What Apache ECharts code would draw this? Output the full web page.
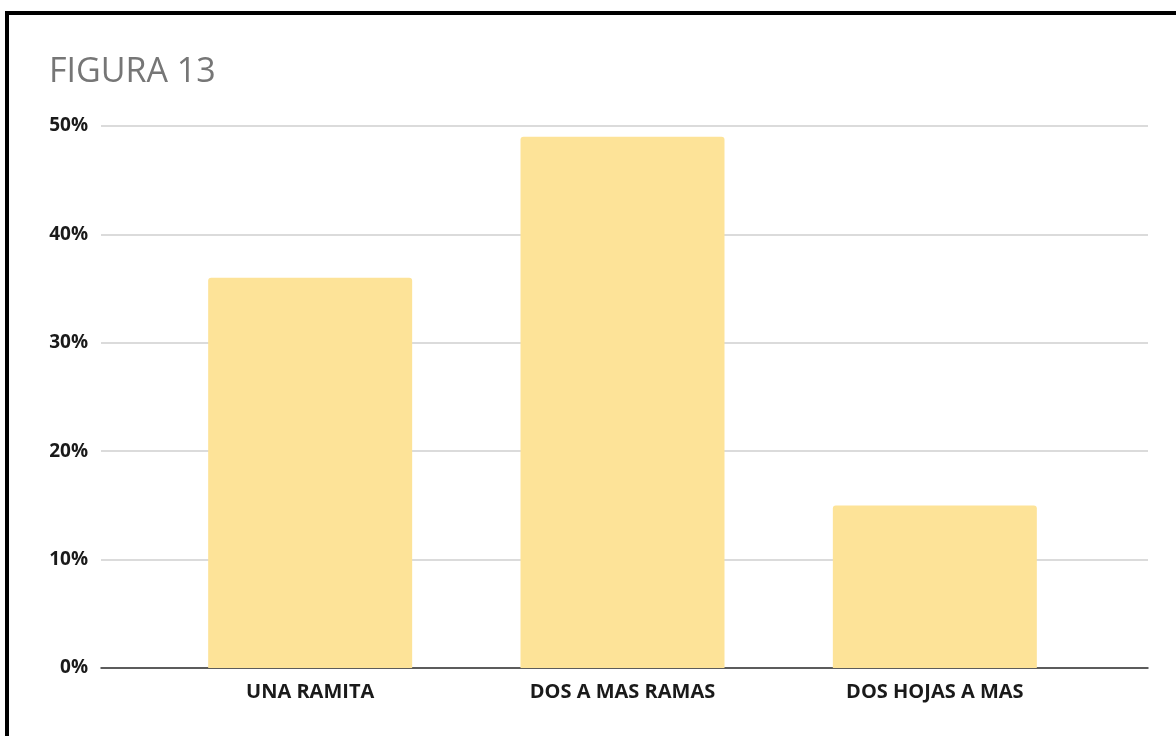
<!DOCTYPE html>
<html><head><meta charset="utf-8">
<script src="https://cdn.jsdelivr.net/npm/echarts@6/dist/echarts.min.js"></script>
<style>html,body{margin:0;padding:0;background:#fff}#c{width:1176px;height:736px}</style>
</head><body><div id="c"></div>
<script>
const categories = ['UNA RAMITA', 'DOS A MAS RAMAS', 'DOS HOJAS A MAS'];
const values = [36, 49, 15];
const yTicks = [0, 10, 20, 30, 40, 50];
const title = 'FIGURA 13';

const chart = echarts.init(document.getElementById('c'));
const font = '"Open Sans", sans-serif';
chart.setOption({
  animation: false,
  backgroundColor: '#fff',
  title: { text: title, left: 44, top: 50, textStyle: { fontFamily: font, fontWeight: 'normal', fontSize: 34, color: '#767676' } },
  graphic: [{ type: 'rect', shape: { x: 7, y: 13, width: 1400, height: 1000 }, style: { fill: 'none', stroke: '#000', lineWidth: 4 }, z: 100 }],
  grid: [
    { left: 101, right: 28, top: 126, bottom: 68, containLabel: false },
    { left: 154, right: 85, top: 126, bottom: 68, containLabel: false }
  ],
  xAxis: [
    { type: 'value', gridIndex: 0, min: 0, max: 1, show: true, axisLabel: { show: false }, axisTick: { show: false }, splitLine: { show: false },
      axisLine: { show: true, onZero: false, lineStyle: { color: '#333', width: 1.5 } } },
    { type: 'category', gridIndex: 1, data: categories, axisLine: { show: false }, axisTick: { show: false },
      axisLabel: { margin: 14, fontFamily: font, fontWeight: 'bold', fontSize: 20, color: '#1a1a1a' } }
  ],
  yAxis: [
    { type: 'value', gridIndex: 0, min: yTicks[0], max: yTicks[yTicks.length - 1], interval: 10,
      axisLine: { show: false }, axisTick: { show: false },
      axisLabel: { margin: 13, fontFamily: font, fontWeight: 'bold', fontSize: 19, color: '#1a1a1a', formatter: v => v + '%' },
      splitLine: { lineStyle: { color: '#cfcfcf', width: 1.5 } } },
    { type: 'value', gridIndex: 1, min: yTicks[0], max: yTicks[yTicks.length - 1], show: false, splitLine: { show: false } }
  ],
  series: [{
    type: 'bar', xAxisIndex: 1, yAxisIndex: 1, data: values, barWidth: 204,
    itemStyle: { color: '#FDE398', borderRadius: [3, 3, 0, 0] }, z: 3
  }]
});
</script></body></html>
